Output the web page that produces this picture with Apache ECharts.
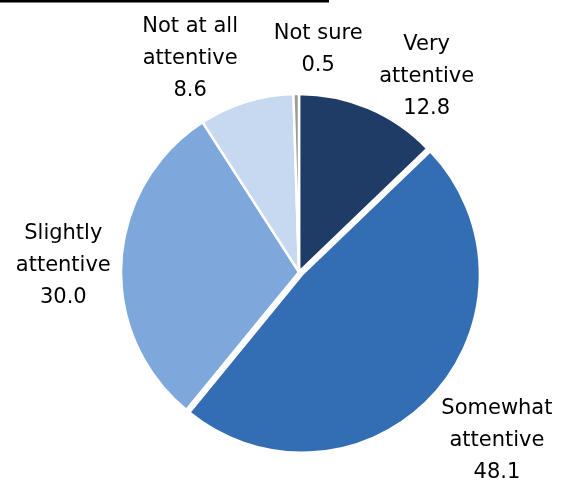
<!DOCTYPE html>
<html>
<head>
<meta charset="utf-8">
<script src="https://cdn.jsdelivr.net/npm/echarts@6/dist/echarts.min.js"></script>
<style>
  html, body { margin: 0; padding: 0; background: #ffffff; }
  #chart { width: 561px; height: 486px; }
</style>
</head>
<body>
<div id="chart"></div>
<script>
// Attentiveness shares (percent), clockwise from 12 o'clock
const categories = ['Very\nattentive', 'Somewhat\nattentive', 'Slightly\nattentive', 'Not at all\nattentive', 'Not sure'];
const shares = [12.8, 48.1, 30.0, 8.6, 0.5];
const sliceColors = ['#1F3C66', '#336EB4', '#7EA8DB', '#C6D9F0', '#9A9A9A'];

// Pie geometry
const CENTER = [299, 272];
const RADIUS = 178;
// Label nudges from the slice's outer mid point (px)
const labelNudge = [[58, -32], [67, 48], [-58, 4], [-56, -43], [22, -44]];

const total = shares.reduce((a, b) => a + b, 0);
function midPoint(i) {
  let before = 0;
  for (let k = 0; k < i; k++) before += shares[k];
  const frac = (before + shares[i] / 2) / total;
  const ang = frac * 2 * Math.PI; // clockwise from top
  return [CENTER[0] + RADIUS * Math.sin(ang), CENTER[1] - RADIUS * Math.cos(ang)];
}

const baseSeries = {
  type: 'pie',
  center: CENTER,
  radius: RADIUS,
  startAngle: 90,
  clockwise: true,
  silent: true,
  emphasis: { disabled: true },
  labelLine: { show: false }
};

const chart = echarts.init(document.getElementById('chart'), null, { renderer: 'canvas' });
chart.setOption({
  animation: false,
  backgroundColor: '#ffffff',
  graphic: [{
    type: 'rect',
    shape: { x: 0, y: 0, width: 329, height: 2.5 },
    style: { fill: '#000000' },
    silent: true
  }],
  series: [
    // Slices, with "Somewhat attentive" pulled out a little
    Object.assign({}, baseSeries, {
      selectedMode: 'single',
      selectedOffset: 4,
      itemStyle: { borderColor: '#ffffff', borderWidth: 2.5 },
      label: { show: false },
      data: categories.map((name, i) => ({
        name: name,
        value: shares[i],
        selected: i === 1,
        itemStyle: { color: sliceColors[i] }
      }))
    }),
    // Category and value labels
    Object.assign({}, baseSeries, {
      selectedMode: false,
      itemStyle: { color: 'rgba(0,0,0,0)', borderWidth: 0 },
      label: {
        show: true,
        position: 'outside',
        alignTo: 'none',
        overflow: 'none',
        width: 200,
        formatter: p => p.name + '\n' + p.value.toFixed(1),
        fontFamily: 'DejaVu Sans',
        fontSize: 21,
        lineHeight: 32,
        color: '#000000'
      },
      labelLayout: params => {
        const i = params.dataIndex;
        const m = midPoint(i);
        return {
          x: m[0] + labelNudge[i][0],
          y: m[1] + labelNudge[i][1],
          align: 'center',
          verticalAlign: 'middle'
        };
      },
      data: categories.map((name, i) => ({ name: name, value: shares[i] }))
    })
  ]
});
</script>
</body>
</html>
